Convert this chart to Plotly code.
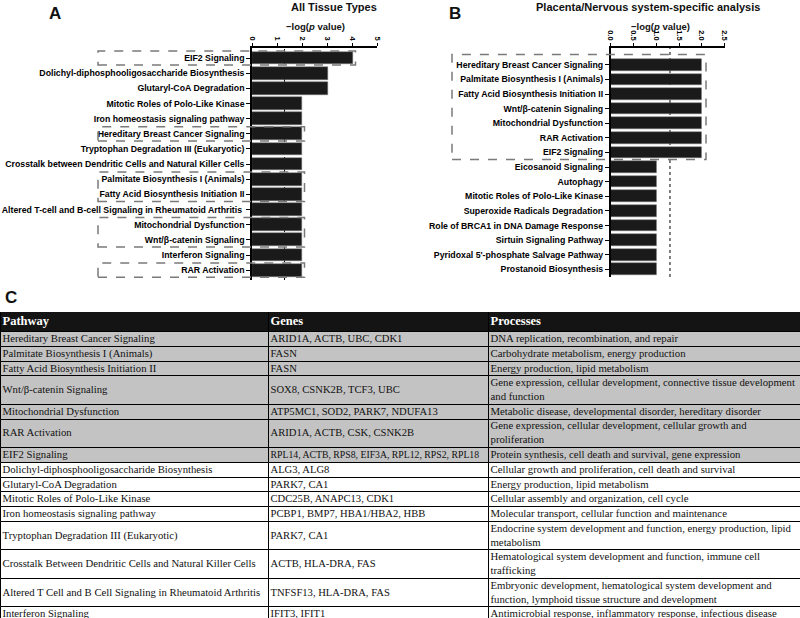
import plotly.graph_objects as go

# ---- data ----
a_paths = ["EIF2 Signaling", "Dolichyl-diphosphooligosaccharide Biosynthesis",
           "Glutaryl-CoA Degradation", "Mitotic Roles of Polo-Like Kinase",
           "Iron homeostasis signaling pathway", "Hereditary Breast Cancer Signaling",
           "Tryptophan Degradation III (Eukaryotic)",
           "Crosstalk between Dendritic Cells and Natural Killer Cells",
           "Palmitate Biosynthesis I (Animals)", "Fatty Acid Biosynthesis Initiation II",
           "Altered T-cell and B-cell Signaling in Rheumatoid Arthritis ",
           "Mitochondrial Dysfunction", "Wnt/β-catenin Signaling",
           "Interferon Signaling", "RAR Activation"]
a_vals = [4.04, 3.02, 3.02, 2.0, 2.0, 2.0, 2.0, 2.0, 2.0, 2.0, 2.0, 2.0, 2.0, 2.0, 2.0]
a_groups = [["EIF2 Signaling"], ["Hereditary Breast Cancer Signaling"],
            ["Palmitate Biosynthesis I (Animals)", "Fatty Acid Biosynthesis Initiation II"],
            ["Mitochondrial Dysfunction", "Wnt/β-catenin Signaling"], ["RAR Activation"]]

b_paths = ["Hereditary Breast Cancer Signaling", "Palmitate Biosynthesis I (Animals)",
           "Fatty Acid Biosynthesis Initiation II", "Wnt/β-catenin Signaling",
           "Mitochondrial Dysfunction", "RAR Activation", "EIF2 Signaling",
           "Eicosanoid Signaling", "Autophagy", "Mitotic Roles of Polo-Like Kinase",
           "Superoxide Radicals Degradation", "Role of BRCA1 in DNA Damage Response",
           "Sirtuin Signaling Pathway", "Pyridoxal 5'-phosphate Salvage Pathway",
           "Prostanoid Biosynthesis"]
b_vals = [2.0, 2.0, 2.0, 2.0, 2.0, 2.0, 2.0, 1.01, 1.01, 1.01, 1.01, 1.01, 1.01, 1.01, 1.01]
b_groups = [b_paths[:7]]

threshold = 1.3  # -log(0.05)

tbl_header = ["Pathway", "Genes", "Processes"]
tbl_pathway = ["Hereditary Breast Cancer Signaling", "Palmitate Biosynthesis I (Animals)",
               "Fatty Acid Biosynthesis Initiation II", "Wnt/β-catenin Signaling",
               "Mitochondrial Dysfunction", "RAR Activation", "EIF2 Signaling",
               "Dolichyl-diphosphooligosaccharide Biosynthesis", "Glutaryl-CoA Degradation",
               "Mitotic Roles of Polo-Like Kinase", "Iron homeostasis signaling pathway",
               "Tryptophan Degradation III (Eukaryotic)",
               "Crosstalk Between Dendritic Cells and Natural Killer Cells",
               "Altered T Cell and B Cell Signaling in Rheumatoid Arthritis",
               "Interferon Signaling"]
tbl_genes = ["ARID1A, ACTB, UBC, CDK1", "FASN", "FASN", "SOX8, CSNK2B, TCF3, UBC",
             "ATP5MC1, SOD2, PARK7, NDUFA13", "ARID1A, ACTB, CSK, CSNK2B",
             "RPL14, ACTB, RPS8, EIF3A, RPL12, RPS2, RPL18", "ALG3, ALG8", "PARK7, CA1",
             "CDC25B, ANAPC13, CDK1", "PCBP1, BMP7, HBA1/HBA2, HBB", "PARK7, CA1",
             "ACTB, HLA-DRA, FAS", "TNFSF13, HLA-DRA, FAS", "IFIT3, IFIT1"]
tbl_process = ["DNA replication, recombination, and repair",
               "Carbohydrate metabolism, energy production",
               "Energy production, lipid metabolism",
               "Gene expression, cellular development, connective tissue development<br>and function",
               "Metabolic disease, developmental disorder, hereditary disorder",
               "Gene expression, cellular development, cellular growth and<br>proliferation",
               "Protein synthesis, cell death and survival, gene expression",
               "Cellular growth and proliferation, cell death and survival",
               "Energy production, lipid metabolism",
               "Cellular assembly and organization, cell cycle",
               "Molecular transport, cellular function and maintenance",
               "Endocrine system development and function, energy production, lipid<br>metabolism",
               "Hematological system development and function, immune cell<br>trafficking",
               "Embryonic development, hematological system development and<br>function, lymphoid tissue structure and development",
               "Antimicrobial response, inflammatory response, infectious disease"]
n_shaded = 7

# ---- layout geometry ----
W, H = 800, 618
SANS = "Arial, Liberation Sans, sans-serif"
SERIF = "Times New Roman, Liberation Serif, serif"

a_xdom = [252 / W, 377 / W]
a_ydom = [1 - 280 / H, 1 - 48 / H]
a_xrng = [0, 5]
a_yrng = [len(a_paths) - 1 + 0.65, -0.66]
b_xdom = [610.7 / W, 724.7 / W]
b_ydom = [1 - 277 / H, 1 - 48 / H]
b_xrng = [0, 2.5]
b_yrng = [len(b_paths) - 1 + 0.53, -1.15]

TBL_TOP = 312
col_w = [268, 220, 312]
col_font = [10.7, 10.6, 10.75]
head_h, line1_h, line2_h = 20, 14.8, 28.4


def to_paper(v, dom, rng):
    return dom[0] + (v - rng[0]) / (rng[1] - rng[0]) * (dom[1] - dom[0])


def text_em(s):
    # rough width of a serif string in em
    w = 0
    for ch in s:
        if ch.isupper():
            w += 0.64
        elif ch.isdigit():
            w += 0.5
        elif ch in " ,.-/()'":
            w += 0.25
        else:
            w += 0.41
    return w


fig = go.Figure()
fig.add_trace(go.Bar(x=a_vals, y=a_paths, orientation="h", width=0.84,
                     marker=dict(color="#1a1a1a", line=dict(color="#777", width=0.5)),
                     xaxis="x", yaxis="y", showlegend=False, hoverinfo="skip"))
fig.add_trace(go.Bar(x=b_vals, y=b_paths, orientation="h", width=0.8,
                     marker=dict(color="#1a1a1a", line=dict(color="#777", width=0.5)),
                     xaxis="x2", yaxis="y2", showlegend=False, hoverinfo="skip"))

# ---- table C: cells drawn as bars on their own axes ----
col_left = [sum(col_w[:i]) for i in range(3)]
row_h = [head_h]
for p, g, t in zip(tbl_pathway, tbl_genes, tbl_process):
    nlines = 1 + max(s.count("<br>") for s in (p, g, t))
    row_h.append(line1_h if nlines == 1 else line2_h)
row_top = [sum(row_h[:i]) for i in range(len(row_h))]
row_mid = [t + h / 2 for t, h in zip(row_top, row_h)]
row_fill = ["#141414"] + ["#c3c3c3" if i < n_shaded else "white" for i in range(len(tbl_pathway))]

cx, cy, cb, ch, cf = [], [], [], [], []
for r in range(len(row_h)):
    for c in range(3):
        cx.append(col_w[c]); cb.append(col_left[c]); cy.append(row_mid[r])
        ch.append(row_h[r]); cf.append(row_fill[r])
fig.add_trace(go.Bar(x=cx, y=cy, base=cb, width=ch, orientation="h",
                     marker=dict(color=cf, line=dict(color="black", width=1)),
                     xaxis="x3", yaxis="y3", showlegend=False, hoverinfo="skip"))

fig.add_trace(go.Scatter(x=[l + 2 for l in col_left], y=[row_mid[0]] * 3,
                         text=["<b>%s</b>" % h for h in tbl_header], mode="text",
                         textposition="middle right", cliponaxis=False,
                         textfont=dict(family=SERIF, size=12.5, color="white"),
                         xaxis="x3", yaxis="y3", showlegend=False, hoverinfo="skip"))
body_x, body_y, body_t, body_s = [], [], [], []
for c, col in enumerate([tbl_pathway, tbl_genes, tbl_process]):
    for r, txt in enumerate(col):
        widest = max(text_em(s) for s in txt.split("<br>"))
        # shrink a cell's text a little when it would run past its column
        fit = (col_w[c] - 3) / widest
        body_x.append(col_left[c] + 2)
        body_y.append(row_mid[r + 1])
        body_t.append(txt)
        body_s.append(min(col_font[c], fit))
fig.add_trace(go.Scatter(x=body_x, y=body_y, text=body_t, mode="text",
                         textposition="middle right", cliponaxis=False,
                         textfont=dict(family=SERIF, size=body_s, color="#111"),
                         xaxis="x3", yaxis="y3", showlegend=False, hoverinfo="skip"))

axis_common = dict(showline=True, linecolor="black", linewidth=1.5, ticks="outside",
                   ticklen=4, tickwidth=1.2, tickcolor="black", showgrid=False,
                   zeroline=False, automargin=False,
                   tickfont=dict(family=SANS, size=8.75, color="black", weight="bold"))
xtop = dict(axis_common, ticklen=3, tickfont=dict(family=SANS, size=7.5, color="black", weight="bold"))
hidden = dict(visible=False, showgrid=False, zeroline=False, automargin=False)
fig.update_layout(
    template="none",
    width=W, height=H, margin=dict(l=0, r=0, t=0, b=0),
    paper_bgcolor="white", plot_bgcolor="rgba(0,0,0,0)", bargap=0, barmode="overlay",
    xaxis=dict(domain=a_xdom, range=a_xrng, side="top", anchor="y", tickvals=[0, 1, 2, 3, 4, 5],
               tickangle=90, **xtop),
    yaxis=dict(domain=a_ydom, range=a_yrng, anchor="x", **axis_common),
    xaxis2=dict(domain=b_xdom, range=b_xrng, side="top", anchor="y2",
                tickvals=[0, 0.5, 1, 1.5, 2, 2.5], ticktext=["0.0", "0.5", "1.0", "1.5", "2.0", "2.5"],
                tickangle=90, **xtop),
    yaxis2=dict(domain=b_ydom, range=b_yrng, anchor="x2", **axis_common),
    xaxis3=dict(domain=[0, 1], range=[-0.5, sum(col_w) - 0.5], anchor="y3", **hidden),
    yaxis3=dict(domain=[0, 1 - TBL_TOP / H], range=[H - TBL_TOP, 0], anchor="x3", **hidden),
)

# threshold lines
for xr, yr in [("x", "y domain"), ("x2", "y2 domain")]:
    fig.add_shape(type="line", xref=xr, yref=yr, x0=threshold, x1=threshold, y0=0, y1=1,
                  line=dict(color="black", width=1, dash="dot"), layer="below")

# dashed group boxes
box_line = dict(color="#7a7a7a", width=1.5, dash="dash")
for grp in a_groups:
    idx = [a_paths.index(g) if g in a_paths else a_paths.index(g + " ") for g in grp]
    vmax = max(a_vals[i] for i in idx)
    fig.add_shape(type="rect", xref="paper", yref="paper", x0=98 / W,
                  x1=to_paper(vmax + 0.1, a_xdom, a_xrng),
                  y0=to_paper(max(idx) + 0.47, a_ydom, a_yrng),
                  y1=to_paper(min(idx) - 0.47, a_ydom, a_yrng), line=box_line)
for grp in b_groups:
    idx = [b_paths.index(g) for g in grp]
    vmax = max(b_vals[i] for i in idx)
    fig.add_shape(type="rect", xref="paper", yref="paper", x0=452 / W,
                  x1=to_paper(vmax + 0.09, b_xdom, b_xrng),
                  y0=to_paper(max(idx) + 0.48, b_ydom, b_yrng),
                  y1=to_paper(min(idx) - 0.7, b_ydom, b_yrng), line=box_line)


# panel letters and titles
def note(text, x, y, size, xanchor="center"):
    fig.add_annotation(text=text, x=x / W, y=1 - y / H, xref="paper", yref="paper",
                       showarrow=False, xanchor=xanchor, yanchor="middle",
                       font=dict(family=SANS, size=size, color="#111", weight="bold"))


note("A", 55, 13, 17)
note("B", 455, 13, 17)
note("C", 11, 298, 17)
note("All Tissue Types", 334, 7, 11)
note("Placenta/Nervous system-specific analysis", 648, 7, 11)
note("−log(<i>p</i> value)", 315, 27, 9.5)
note("−log(<i>p</i> value)", 660, 26, 9.5)

# the page body has a default 8px margin; drop it so the figure sits at the window corner
fig.write_html("out.html", config={"displayModeBar": False},
               post_script="document.body.style.margin='0';")
